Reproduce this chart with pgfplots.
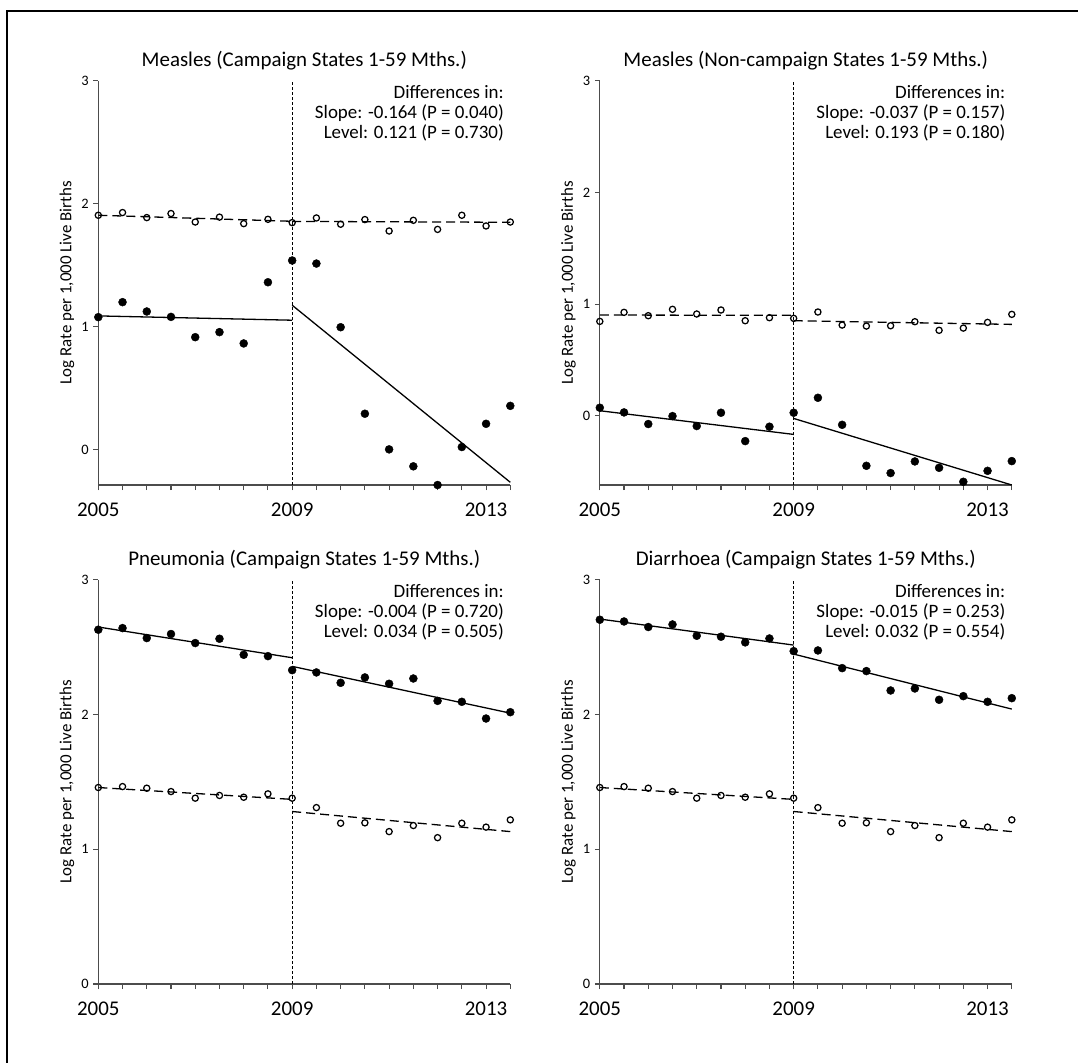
\documentclass[border=0pt]{standalone}
\usepackage{pgfplots}
\pgfplotsset{compat=1.18}
\usepackage{fontspec}
\setmainfont{Carlito}

% Half-year observations, 2005.0 -- 2013.5
\pgfplotsset{
  panel/.style={
    scale only axis, width=412bp, height=404.3bp,
    xmin=2005, xmax=2013.5, ymax=3,
    clip=false,
    axis x line=bottom, axis y line=left,
    axis line style={-, draw=black!70, line width=1.1bp},
    every tick/.style={draw=black!70, line width=1.1bp},
    tick align=outside, major tick length=5bp, minor tick length=5bp,
    xtick={2005,2009,2013},
    minor xtick={2005,2005.5,...,2013.5},
    ytick={0,1,2,3},
    /pgf/number format/1000 sep={},
    /pgf/number format/assume math mode=true,
    xticklabel style={font=\fontsize{21}{23}\selectfont, yshift=-9.5bp},
    yticklabel style={font=\fontsize{14.5}{16}\selectfont, xshift=-1bp},
    title style={font=\fontsize{21}{24}\selectfont, at={(axis description cs:0.5,1)}, anchor=base, yshift=8bp},
    ylabel={Log Rate per 1,000 Live Births},
    every axis y label/.style={at={(axis description cs:0,0.5)}, xshift=-31.3bp, rotate=90, anchor=center, font=\fontsize{17}{19}\selectfont},
  },
  filled/.style={only marks, mark=*, mark size=4.0bp, mark options={draw=black, fill=black}},
  open/.style={only marks, mark=o, mark size=3.1bp, mark options={draw=black, line width=1.25bp}},
  fitsolid/.style={no marks, black, line width=1.3bp},
  fitdash/.style={no marks, black, line width=1.3bp, dash pattern=on 9bp off 5bp},
  breakline/.style={no marks, black, line width=1.2bp, dash pattern=on 3bp off 2bp},
}
\tikzset{note/.style={anchor=base east, font=\fontsize{19}{21}\selectfont}}

\pgfplotstableread{
x      mc      mo     nc      no     pc     po     dc
2005.0 1.076   1.905  0.072   0.845  2.629  1.458  2.703
2005.5 1.198   1.927  0.030   0.926  2.641  1.465  2.690
2006.0 1.122   1.886 -0.074   0.896  2.567  1.453  2.649
2006.5 1.078   1.919 -0.003   0.953  2.597  1.428  2.668
2007.0 0.913   1.850 -0.092   0.911  2.530  1.379  2.584
2007.5 0.954   1.890  0.027   0.947  2.562  1.399  2.577
2008.0 0.862   1.837 -0.227   0.851  2.443  1.386  2.535
2008.5 1.360   1.872 -0.098   0.878  2.433  1.411  2.564
2009.0 1.537   1.845  0.027   0.872  2.329  1.379  2.470
2009.5 1.512   1.883  0.161   0.929  2.312  1.309  2.475
2010.0 0.994   1.832 -0.081   0.812  2.235  1.193  2.344
2010.5 0.290   1.870 -0.448   0.803  2.275  1.196  2.322
2011.0 0.000   1.777 -0.513   0.806  2.228  1.131  2.178
2011.5 -0.138  1.864 -0.409   0.842  2.267  1.176  2.193
2012.0 -0.290  1.790 -0.466   0.765  2.101  1.086  2.109
2012.5 0.019   1.905 -0.591   0.785  2.094  1.193  2.136
2013.0 0.208   1.818 -0.493   0.836  1.970  1.164  2.094
2013.5 0.354   1.850 -0.406   0.908  2.017  1.218  2.121
}\rates

\begin{document}
\begin{tikzpicture}
\useasboundingbox (0bp,0bp) rectangle (1078bp,-1063bp);
\draw[line width=1.3bp] (1078bp,-11bp) -- (7bp,-11bp) -- (7bp,-1063bp);

% Measles, campaign states
\begin{axis}[panel, at={(98.3bp,-485bp)}, anchor=south west, ymin=-0.29,
  title={Measles (Campaign States 1-59 Mths.)}]
  \addplot[breakline] coordinates {(2009,-0.29) (2009,3)};
  \addplot[fitsolid] coordinates {(2005,1.086) (2009,1.051)};
  \addplot[fitsolid] coordinates {(2009,1.173) (2013.5,-0.268)};
  \addplot[fitdash] coordinates {(2005,1.905) (2009,1.856)};
  \addplot[fitdash] coordinates {(2009,1.855) (2013.5,1.848)};
  \addplot[filled] table[x=x, y=mc] {\rates};
  \addplot[open] table[x=x, y=mo] {\rates};
  \node[note, xshift=-3bp, yshift=-17.6bp] at (rel axis cs:1,1) {Differences in:};
  \node[note, xshift=-3bp, yshift=-37.6bp] at (rel axis cs:1,1) {Slope: -0.164 (P = 0.040)};
  \node[note, xshift=-3bp, yshift=-57.6bp] at (rel axis cs:1,1) {Level: 0.121 (P = 0.730)};
\end{axis}

% Measles, non-campaign states
\begin{axis}[panel, at={(599.8bp,-485bp)}, anchor=south west, ymin=-0.62,
  title={Measles (Non-campaign States 1-59 Mths.)}]
  \addplot[breakline] coordinates {(2009,-0.62) (2009,3)};
  \addplot[fitsolid] coordinates {(2005,0.045) (2009,-0.167)};
  \addplot[fitsolid] coordinates {(2009,-0.024) (2013.5,-0.62)};
  \addplot[fitdash] coordinates {(2005,0.902) (2009,0.899)};
  \addplot[fitdash] coordinates {(2009,0.851) (2013.5,0.818)};
  \addplot[filled] table[x=x, y=nc] {\rates};
  \addplot[open] table[x=x, y=no] {\rates};
  \node[note, xshift=-3bp, yshift=-17.6bp] at (rel axis cs:1,1) {Differences in:};
  \node[note, xshift=-3bp, yshift=-37.6bp] at (rel axis cs:1,1) {Slope: -0.037 (P = 0.157)};
  \node[note, xshift=-3bp, yshift=-57.6bp] at (rel axis cs:1,1) {Level: 0.193 (P = 0.180)};
\end{axis}

% Pneumonia, campaign states
\begin{axis}[panel, at={(98.3bp,-984bp)}, anchor=south west, ymin=0,
  title={Pneumonia (Campaign States 1-59 Mths.)}]
  \addplot[breakline] coordinates {(2009,0) (2009,3)};
  \addplot[fitsolid] coordinates {(2005,2.649) (2009,2.421)};
  \addplot[fitsolid] coordinates {(2009,2.357) (2013.5,2.010)};
  \addplot[fitdash] coordinates {(2005,1.458) (2009,1.370)};
  \addplot[fitdash] coordinates {(2009,1.280) (2013.5,1.131)};
  \addplot[filled] table[x=x, y=pc] {\rates};
  \addplot[open] table[x=x, y=po] {\rates};
  \node[note, xshift=-3bp, yshift=-17.6bp] at (rel axis cs:1,1) {Differences in:};
  \node[note, xshift=-3bp, yshift=-37.6bp] at (rel axis cs:1,1) {Slope: -0.004 (P = 0.720)};
  \node[note, xshift=-3bp, yshift=-57.6bp] at (rel axis cs:1,1) {Level: 0.034 (P = 0.505)};
\end{axis}

% Diarrhoea, campaign states
\begin{axis}[panel, at={(599.8bp,-984bp)}, anchor=south west, ymin=0,
  title={Diarrhoea (Campaign States 1-59 Mths.)}]
  \addplot[breakline] coordinates {(2009,0) (2009,3)};
  \addplot[fitsolid] coordinates {(2005,2.708) (2009,2.515)};
  \addplot[fitsolid] coordinates {(2009,2.448) (2013.5,2.040)};
  \addplot[fitdash] coordinates {(2005,1.458) (2009,1.370)};
  \addplot[fitdash] coordinates {(2009,1.280) (2013.5,1.131)};
  \addplot[filled] table[x=x, y=dc] {\rates};
  \addplot[open] table[x=x, y=po] {\rates};
  \node[note, xshift=-3bp, yshift=-17.6bp] at (rel axis cs:1,1) {Differences in:};
  \node[note, xshift=-3bp, yshift=-37.6bp] at (rel axis cs:1,1) {Slope: -0.015 (P = 0.253)};
  \node[note, xshift=-3bp, yshift=-57.6bp] at (rel axis cs:1,1) {Level: 0.032 (P = 0.554)};
\end{axis}
\end{tikzpicture}
\end{document}
